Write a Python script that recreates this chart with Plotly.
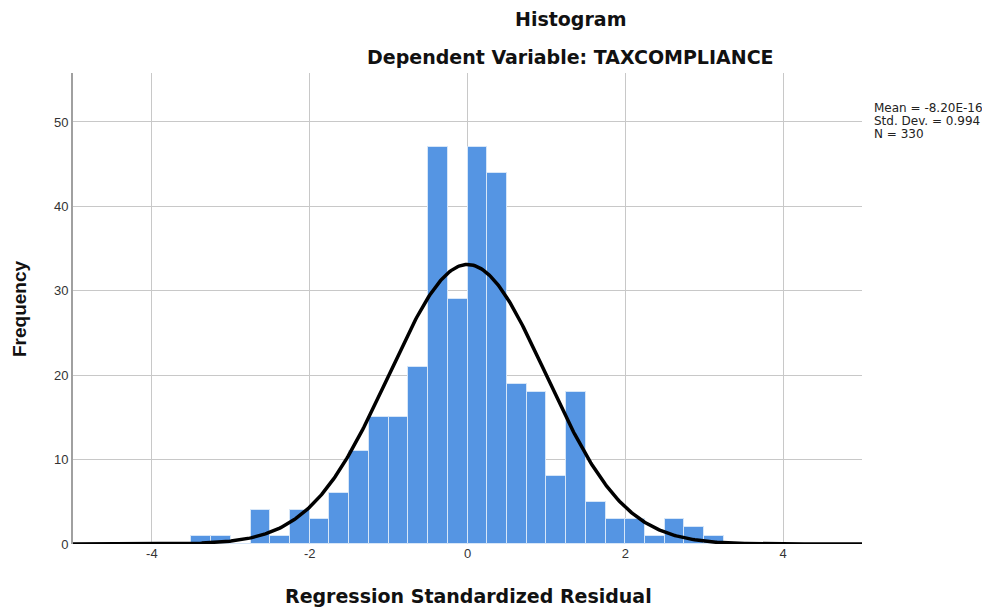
import numpy as np
import plotly.graph_objects as go

# Data
bin_start = -3.5
bin_width = 0.25
counts = [1, 1, 0, 4, 1, 4, 3, 6, 11, 15, 15, 21, 47, 29, 47, 44, 19, 18, 8, 18, 5, 3, 3, 1, 3, 2, 1]
mean = -8.20e-16
std = 0.994
n = 330
x_ticks = [-4, -2, 0, 2, 4]
y_ticks = [0, 10, 20, 30, 40, 50]
stats_lines = ["Mean = -8.20E-16", f"Std. Dev. = {std}", f"N = {n}"]

centers = [bin_start + bin_width * (i + 0.5) for i in range(len(counts))]

xs = np.linspace(-5, 5, 600)
ys = n * bin_width / (std * np.sqrt(2 * np.pi)) * np.exp(-0.5 * ((xs - mean) / std) ** 2)

# page body has an 8px margin; build the figure so it lands on the 990x607 window
OFF = 8
W, H = 990 - OFF, 607 - OFF
L, T, R, B = 73 - OFF, 73 - OFF, 990 - 862, 607 - 544

fig = go.Figure()
fig.add_trace(go.Bar(
    x=centers, y=counts, width=bin_width,
    marker=dict(color="#5595E3", line=dict(color="#D6E6F8", width=1)),
    hoverinfo="x+y",
))
fig.add_trace(go.Scatter(
    x=xs, y=ys, mode="lines",
    line=dict(color="black", width=3.5),
))

font = "Liberation Sans, Arial, sans-serif"
wide = "DejaVu Sans, sans-serif"
fig.update_layout(
    width=W, height=H,
    margin=dict(l=L, r=R, t=T, b=B, pad=0),
    plot_bgcolor="white", paper_bgcolor="white",
    showlegend=False,
    bargap=0,
    font=dict(family=font, color="#222222"),
    xaxis=dict(
        range=[-5, 5], tickvals=x_ticks, ticktext=[str(v) for v in x_ticks],
        showgrid=True, gridcolor="#C8C8C8", gridwidth=1,
        zeroline=False, showline=False, ticks="", automargin=False,
        tickfont=dict(size=13, color="#333333"),
    ),
    yaxis=dict(
        range=[0, 55.8], tickvals=y_ticks, ticktext=[str(v) for v in y_ticks],
        showgrid=True, gridcolor="#C8C8C8", gridwidth=1,
        zeroline=False, showline=True, linecolor="#A0A0A0", linewidth=2,
        ticks="", automargin=False,
        tickfont=dict(size=13, color="#333333"),
    ),
)

pw = W - L - R
ph = H - T - B
def px_x(px):
    return (px - OFF - L) / pw
def px_y(py):
    return (H - B - (py - OFF)) / ph

title_font = dict(size=19, color="#111111", family=wide)
fig.add_annotation(text="<b>Histogram</b>", x=px_x(570), y=px_y(19),
                   xref="paper", yref="paper", showarrow=False,
                   font=title_font, xanchor="center", yanchor="middle")
fig.add_annotation(text="<b>Dependent Variable: TAXCOMPLIANCE</b>", x=px_x(570), y=px_y(57),
                   xref="paper", yref="paper", showarrow=False,
                   font=title_font, xanchor="center", yanchor="middle")
fig.add_annotation(text="<b>Regression Standardized Residual</b>", x=px_x(468), y=px_y(596),
                   xref="paper", yref="paper", showarrow=False,
                   font=title_font, xanchor="center", yanchor="middle")
fig.add_annotation(text="<b>Frequency</b>", x=px_x(19), y=px_y(309), textangle=-90,
                   xref="paper", yref="paper", showarrow=False,
                   font=dict(size=19, color="#111111", family=font), xanchor="center", yanchor="middle")
for i, line in enumerate(stats_lines):
    fig.add_annotation(text=line, x=px_x(872), y=px_y(108 + 13 * i),
                       xref="paper", yref="paper", showarrow=False, align="left",
                       font=dict(size=12, color="#222222", family=wide), xanchor="left", yanchor="middle")

fig.write_html("out.html")
